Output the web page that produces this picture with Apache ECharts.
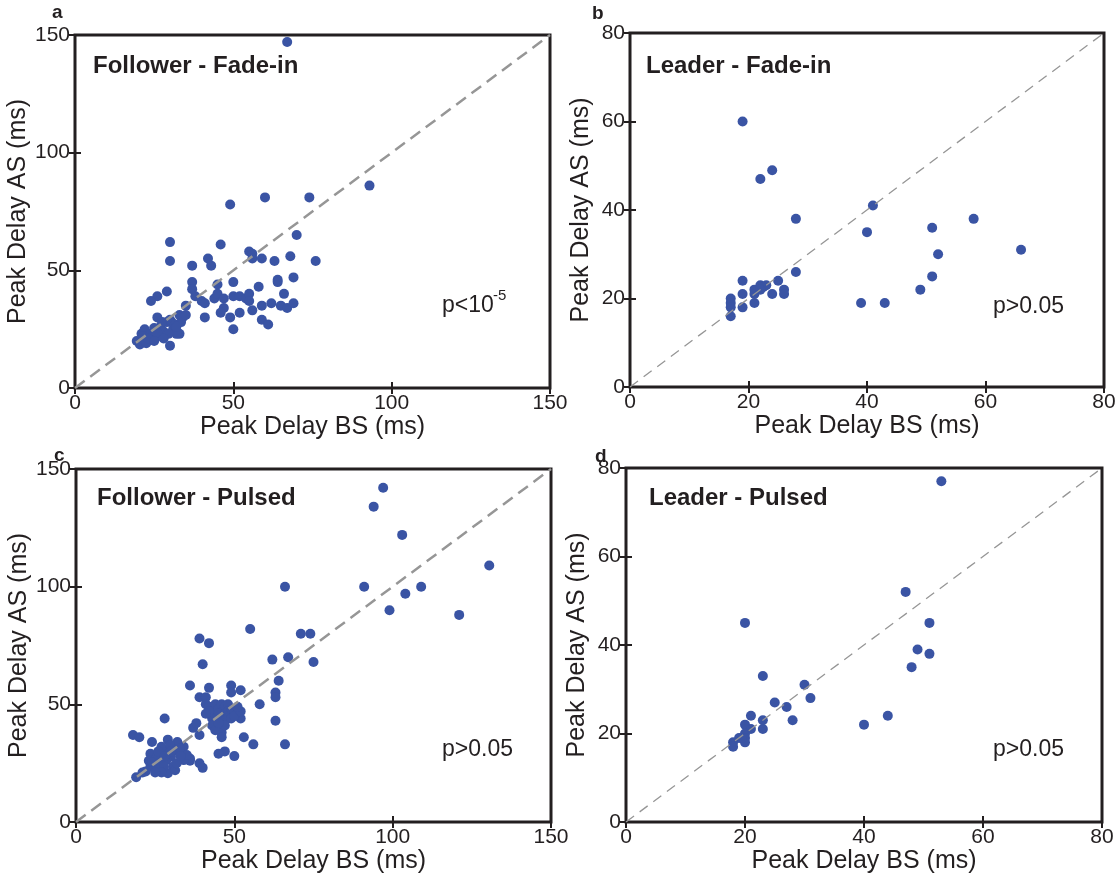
<!DOCTYPE html>
<html>
<head>
<meta charset="utf-8">
<script src="https://cdn.jsdelivr.net/npm/echarts@6/dist/echarts.min.js"></script>
<style>
html,body{margin:0;padding:0;background:#fff;}
#chart{width:1120px;height:875px;}
</style>
</head>
<body>
<div id="chart"></div>
<script>
// ---------- DATA ----------
const panelTitles = ['Follower - Fade-in', 'Leader - Fade-in', 'Follower - Pulsed', 'Leader - Pulsed'];
const panelLetters = ['a', 'b', 'c', 'd'];
const pValues = ['p<10', 'p>0.05', 'p>0.05', 'p>0.05'];
const pSuperscript = '-5';
const xAxisName = 'Peak Delay BS (ms)';
const yAxisName = 'Peak Delay AS (ms)';
const followerAxisMax = 150, followerTickStep = 50;
const leaderAxisMax = 80, leaderTickStep = 20;

const followerFadeIn = [
  [67,147],[93,86],[49,78],[60,81],[74,81],[70,65],[30,62],[46,61],[30,54],[55,58],[56,57],[56,55],
  [59,55],[63,54],[68,56],[76,54],[42,55],[43,52],[37,52],[69,47],[64,46],[64,45],[50,45],[37,45],
  [45,44],[58,43],[37,42],[29,41],[66,40],[26,39],[24,37],[38,39],[40,37],[41,36],[44,38],[45,40],
  [47,38],[50,39],[52,39],[54,38],[55,40],[55,37],[47,34],[46,32],[49,30],[52,32],[56,33],[59,35],
  [62,36],[65,35],[67,34],[69,36],[59,29],[61,27],[50,25],[41,30],[35,35],[30,18],[33,23],
  [19.5,20],[20.5,18.5],[21,23],[22,25],[26,30],[27,26],[29,28],[30.5,28],[33,31],[34,30],[24,21],
  [26,22],[28,24],[31,25],[32,23],[22.5,19],[21.5,22],[25,25.5],[27.5,28],[30,29],[31.5,27],[33.5,28],
  [24,23],[29.5,23],[26,23.5],[23,21],[25,20],[28,21],[32,26],[35,31]
];
const leaderFadeIn = [
  [19,60],[24,49],[22,47],[41,41],[28,38],[58,38],[40,35],[51,36],[52,30],[66,31],[51,25],[49,22],
  [39,19],[43,19],[28,26],[19,24],[25,24],[19,21],[19,18],[17,20],[17,19],[17,18],[17,16],[21,19],
  [21,22],[21,21],[22,23],[22.5,22.6],[23,23],[22,22],[24,21],[26,22],[26,21]
];
const followerPulsed = [
  [97,142],[94,134],[103,122],[130.5,109],[66,100],[91,100],[109,100],[104,97],[99,90],[121,88],
  [55,82],[71,80],[74,80],[39,78],[42,76],[40,67],[62,69],[67,70],[75,68],[64,60],[63,55],[63,53],
  [58,50],[63,43],[66,33],[53,36],[56,33],[50,28],[47,30],[45,29],[36,58],[42,57],[49,58],[49,55],
  [52,56],[39,53],[41,53],[41,50],[28,44],[18,37],[20,36],[19,19],[21,21],[39,25],[40,23],[36,27],
  [37,40],[38,42],[39,37],
  [42,49],[43,47],[44,50],[45,48],[46,50],[47,49],[48,50],[44,45],[45,46],[46,44],[47,46],[48,47],
  [49,48],[50,47],[51,46],[52,44],[43,44],[44,42],[45,40],[46,38],[47,43],[48,44],[49,44],[50,45],
  [43,41],[44,39],[47,41],[42,47],[41,46],[52,47],[51,49],[46,36],[45,42],
  [24,34],[22,21.5],[29,35],[32,34],[34,32],[36,26],[23.5,29],[23,26],[23.5,23.5],[25.5,27.7],
  [26.5,25],[25.5,23.5],[28.6,30.6],[30,27.7],[28.6,26.3],[30.7,23.5],[29,20.7],[31.3,22],[32.8,29.2],
  [34,26.3],[31.8,25],[35,28.5],[27,32],[29.7,32.7],[31.3,30.6],[32.8,31.3],[24,25.5],[27.8,23.5],
  [26,30],[30,30],[28,28],[33,28],[27,21],[25,21]
];
const leaderPulsed = [
  [53,77],[47,52],[20,45],[51,45],[49,39],[51,38],[48,35],[23,33],[30,31],[31,28],[25,27],[27,26],
  [28,23],[40,22],[44,24],[21,24],[23,23],[23,21],[20,22],[21,21],[20,20],[20,19],[20,18],[19,19],
  [18,18],[18,17],[19.5,19]
];

// ---------- LAYOUT ----------
const panels = [
  {data: followerFadeIn, max: followerAxisMax, step: followerTickStep, grid: {left: 75, top: 35, width: 475, height: 353}, dashW: 2.5, dash: [12, 7]},
  {data: leaderFadeIn, max: leaderAxisMax, step: leaderTickStep, grid: {left: 630, top: 33, width: 474, height: 354}, dashW: 1.3, dash: [10, 7]},
  {data: followerPulsed, max: followerAxisMax, step: followerTickStep, grid: {left: 76, top: 469, width: 475, height: 353}, dashW: 2.5, dash: [12, 7]},
  {data: leaderPulsed, max: leaderAxisMax, step: leaderTickStep, grid: {left: 626, top: 468, width: 476, height: 354}, dashW: 1.3, dash: [10, 7]}
];

const INK = '#231f20';
const FONT = 'Liberation Sans, Arial, Helvetica, sans-serif';
const DOT = '#3a54a4';

const grids = [], xAxes = [], yAxes = [], series = [], graphics = [];
const tick = {show: true, inside: true, length: 6, lineStyle: {color: INK, width: 2}};

panels.forEach((p, i) => {
  grids.push(Object.assign({show: true, borderColor: INK, borderWidth: 3, backgroundColor: 'transparent', containLabel: false}, p.grid));
  const common = {type: 'value', gridIndex: i, min: 0, max: p.max, interval: p.step, splitLine: {show: false}, axisLine: {show: false}, axisTick: tick};
  xAxes.push(Object.assign({}, common, {
    position: 'bottom', name: xAxisName, nameLocation: 'middle', nameGap: 24,
    nameTextStyle: {color: INK, fontSize: 25, fontFamily: FONT},
    axisLabel: {color: INK, fontSize: 21, fontFamily: FONT, margin: 5}
  }));
  xAxes.push(Object.assign({}, common, {position: 'top', axisLabel: {show: false}}));
  yAxes.push(Object.assign({}, common, {
    position: 'left', name: yAxisName, nameLocation: 'middle', nameGap: 36,
    nameTextStyle: {color: INK, fontSize: 25, fontFamily: FONT},
    axisLabel: {color: INK, fontSize: 21, fontFamily: FONT, margin: 5}
  }));
  yAxes.push(Object.assign({}, common, {position: 'right', axisLabel: {show: false}}));

  series.push({
    type: 'scatter', xAxisIndex: 2 * i, yAxisIndex: 2 * i, data: p.data,
    symbol: 'circle', symbolSize: 10, itemStyle: {color: DOT, opacity: 1}, z: 2, silent: true
  });
  series.push({
    type: 'line', xAxisIndex: 2 * i, yAxisIndex: 2 * i, data: [[0, 0], [p.max, p.max]],
    symbol: 'none', lineStyle: {color: '#969696', width: p.dashW, type: p.dash}, z: 3, silent: true
  });
});

// panel letters, titles, p-values
const letterPos = [[58, 14], [598, 15], [60, 457], [601, 458]];
const titlePos = [[93, 66], [646, 66], [97, 498], [649, 498]];
const pPos = [[442, 306], [993, 307], [442, 750], [993, 750]];
panels.forEach((p, i) => {
  graphics.push({type: 'text', left: letterPos[i][0] - 6, top: letterPos[i][1] - 11,
    style: {text: panelLetters[i], fill: INK, font: 'bold 19px ' + FONT}});
  graphics.push({type: 'text', x: titlePos[i][0], y: titlePos[i][1],
    style: {text: panelTitles[i], fill: INK, font: 'bold 24px ' + FONT, textVerticalAlign: 'middle', verticalAlign: 'middle'}});
  graphics.push({type: 'text', x: pPos[i][0], y: pPos[i][1],
    style: {text: pValues[i], fill: INK, font: '23px ' + FONT, textVerticalAlign: 'middle', verticalAlign: 'middle'}});
});
graphics.push({type: 'text', x: 493, y: 296,
  style: {text: pSuperscript, fill: INK, font: '15px ' + FONT, textVerticalAlign: 'middle', verticalAlign: 'middle'}});

const chart = echarts.init(document.getElementById('chart'), null, {renderer: 'canvas'});
chart.setOption({
  animation: false,
  backgroundColor: '#fff',
  grid: grids,
  xAxis: xAxes,
  yAxis: yAxes,
  series: series,
  graphic: graphics
});
</script>
</body>
</html>
